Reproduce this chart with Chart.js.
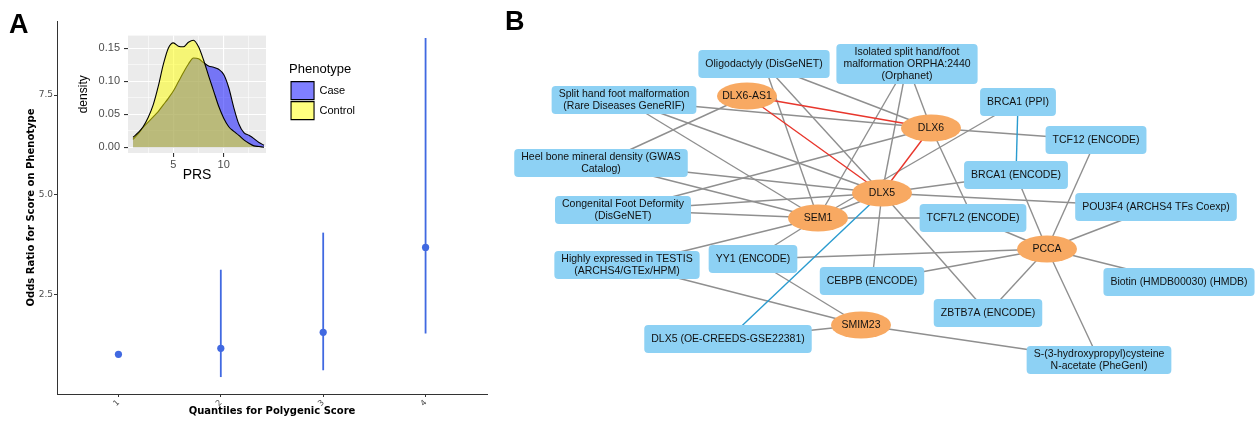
<!DOCTYPE html>
<html>
<head>
<meta charset="utf-8">
<script src="https://cdn.jsdelivr.net/npm/chart.js@4.4.0/dist/chart.umd.min.js"></script>
<style>
  body { margin: 0; background: #fff; }
  #wrap { position: relative; width: 1256px; height: 423px; overflow: hidden; background: #fff; }
  #wrap canvas { position: absolute; }
  .tag { position: absolute; font: bold 27px "Liberation Sans", Arial, sans-serif; color: #000; }
</style>
</head>
<body>
<div id="wrap">
  <canvas id="orChart" width="500" height="423" style="left:0;top:0"></canvas>
  <canvas id="densChart" width="327" height="165" style="left:75px;top:25px"></canvas>
  <canvas id="netChart" width="756" height="423" style="left:500px;top:0"></canvas>
  <div class="tag" style="left:9px;top:9px">A</div>
  <div class="tag" style="left:505px;top:6px">B</div>
</div>
<script>
// ---- panel A: odds ratio by quantile
var quantiles = [1, 2, 3, 4];
var oddsRatio = [1.0, 1.15, 1.55, 3.68];
var ciLow = [null, 0.43, 0.60, 1.52];
var ciHigh = [null, 3.12, 4.05, 8.93];
var orTicks = [2.5, 5.0, 7.5];

// ---- inset: PRS density by phenotype
var prsGrid = [1, 1.5, 2, 2.5, 3, 3.5, 4, 4.5, 5, 5.5, 6, 6.5, 7, 7.5, 8, 8.5, 9, 9.5, 10, 10.5, 11, 11.5, 12, 12.5, 13, 13.5, 14];
var densityCase = [0.012, 0.020, 0.030, 0.038, 0.046, 0.054, 0.064, 0.074, 0.085, 0.099, 0.113, 0.126, 0.135, 0.134, 0.128, 0.123, 0.121, 0.118, 0.110, 0.090, 0.060, 0.035, 0.022, 0.018, 0.013, 0.007, 0.003];
var densityControl = [0.015, 0.022, 0.031, 0.045, 0.064, 0.092, 0.125, 0.150, 0.158, 0.153, 0.152, 0.159, 0.162, 0.152, 0.132, 0.108, 0.085, 0.062, 0.044, 0.031, 0.024, 0.018, 0.011, 0.006, 0.002, 0.001, 0.000];
var prsTicks = [2.5, 5, 7.5, 10, 12.5];
var prsLabels = [5, 10];
var densTicks = [0, 0.025, 0.05, 0.075, 0.1, 0.125, 0.15];
var densLabels = [0, 0.05, 0.1, 0.15];

// ---- panel B: network
var nodeNames = ['DLX6-AS1', 'DLX6', 'DLX5', 'SEM1', 'PCCA', 'SMIM23',
  'Oligodactyly (DisGeNET)',
  'Isolated split hand/foot\nmalformation ORPHA:2440\n(Orphanet)',
  'Split hand foot malformation\n(Rare Diseases GeneRIF)',
  'BRCA1 (PPI)', 'TCF12 (ENCODE)',
  'Heel bone mineral density (GWAS\nCatalog)',
  'BRCA1 (ENCODE)',
  'Congenital Foot Deformity\n(DisGeNET)',
  'POU3F4 (ARCHS4 TFs Coexp)', 'TCF7L2 (ENCODE)',
  'Highly expressed in TESTIS\n(ARCHS4/GTEx/HPM)',
  'YY1 (ENCODE)', 'CEBPB (ENCODE)', 'Biotin (HMDB00030) (HMDB)',
  'ZBTB7A (ENCODE)', 'DLX5 (OE-CREEDS-GSE22381)',
  'S-(3-hydroxypropyl)cysteine\nN-acetate (PheGenI)'];
var nodeKind = ['gene', 'gene', 'gene', 'gene', 'gene', 'gene',
  'term', 'term', 'term', 'term', 'term', 'term', 'term', 'term', 'term',
  'term', 'term', 'term', 'term', 'term', 'term', 'term', 'term'];
var layoutX = [247, 431, 382, 318, 547, 361, 264, 407, 124, 518, 596, 101, 516, 123, 656, 473, 127, 253, 372, 679, 488, 228, 599];
var layoutY = [96, 128, 193, 218, 249, 325, 64, 64, 100, 102, 140, 163, 175, 210, 207, 218, 265, 259, 281, 282, 313, 339, 360];

var edgeFrom = ['DLX6-AS1', 'DLX6-AS1', 'DLX6', 'BRCA1 (PPI)', 'DLX5',
  'Oligodactyly (DisGeNET)', 'Oligodactyly (DisGeNET)', 'Oligodactyly (DisGeNET)',
  'Isolated split hand/foot\nmalformation ORPHA:2440\n(Orphanet)', 'Isolated split hand/foot\nmalformation ORPHA:2440\n(Orphanet)', 'Isolated split hand/foot\nmalformation ORPHA:2440\n(Orphanet)',
  'Split hand foot malformation\n(Rare Diseases GeneRIF)', 'Split hand foot malformation\n(Rare Diseases GeneRIF)', 'Split hand foot malformation\n(Rare Diseases GeneRIF)',
  'Heel bone mineral density (GWAS\nCatalog)', 'Heel bone mineral density (GWAS\nCatalog)', 'Heel bone mineral density (GWAS\nCatalog)',
  'Congenital Foot Deformity\n(DisGeNET)', 'Congenital Foot Deformity\n(DisGeNET)', 'Congenital Foot Deformity\n(DisGeNET)',
  'Highly expressed in TESTIS\n(ARCHS4/GTEx/HPM)', 'Highly expressed in TESTIS\n(ARCHS4/GTEx/HPM)',
  'YY1 (ENCODE)', 'YY1 (ENCODE)', 'YY1 (ENCODE)',
  'DLX5 (OE-CREEDS-GSE22381)',
  'CEBPB (ENCODE)', 'CEBPB (ENCODE)',
  'ZBTB7A (ENCODE)', 'ZBTB7A (ENCODE)',
  'TCF7L2 (ENCODE)', 'TCF7L2 (ENCODE)', 'TCF7L2 (ENCODE)',
  'BRCA1 (ENCODE)', 'BRCA1 (ENCODE)', 'BRCA1 (PPI)',
  'TCF12 (ENCODE)', 'TCF12 (ENCODE)',
  'POU3F4 (ARCHS4 TFs Coexp)', 'POU3F4 (ARCHS4 TFs Coexp)',
  'Biotin (HMDB00030) (HMDB)',
  'S-(3-hydroxypropyl)cysteine\nN-acetate (PheGenI)', 'S-(3-hydroxypropyl)cysteine\nN-acetate (PheGenI)',
  'SEM1'];
var edgeTo = ['DLX6', 'DLX5', 'DLX5', 'BRCA1 (ENCODE)', 'DLX5 (OE-CREEDS-GSE22381)',
  'SEM1', 'DLX5', 'DLX6',
  'SEM1', 'DLX5', 'DLX6',
  'SEM1', 'DLX5', 'DLX6',
  'DLX6-AS1', 'DLX5', 'SEM1',
  'DLX6', 'DLX5', 'SEM1',
  'SEM1', 'SMIM23',
  'SEM1', 'PCCA', 'SMIM23',
  'SMIM23',
  'DLX5', 'PCCA',
  'DLX5', 'PCCA',
  'SEM1', 'PCCA', 'DLX6',
  'DLX5', 'PCCA', 'SEM1',
  'DLX6', 'PCCA',
  'DLX5', 'PCCA',
  'PCCA',
  'PCCA', 'SMIM23',
  'DLX5'];
var edgeKind = ['red', 'red', 'red', 'blue', 'blue'];
while (edgeKind.length < edgeFrom.length) edgeKind.push('plain');

Chart.defaults.font.family = '"Liberation Sans", Arial, sans-serif';
Chart.defaults.animation = false;
Chart.defaults.events = [];
Chart.defaults.plugins.tooltip.enabled = false;

var pointBlue = '#4169E1';

// ---------- panel A main chart
var errorSets = [];
quantiles.forEach(function (q, i) {
  if (ciLow[i] === null) return;
  errorSets.push({
    data: [{ x: q, y: ciLow[i] }, { x: q, y: ciHigh[i] }],
    showLine: true, borderColor: pointBlue, borderWidth: 1.8, pointRadius: 0
  });
});

new Chart(document.getElementById('orChart'), {
  type: 'scatter',
  data: {
    datasets: [{
      data: quantiles.map(function (q, i) { return { x: q, y: oddsRatio[i] }; }),
      pointRadius: 3.6, backgroundColor: pointBlue, borderWidth: 0
    }].concat(errorSets)
  },
  options: {
    responsive: false,
    layout: { padding: { top: 21, right: 13, left: 0, bottom: 0 } },
    plugins: { legend: { display: false } },
    scales: {
      x: {
        type: 'linear', min: 0.4, max: 4.6,
        afterBuildTicks: function (s) { s.ticks = quantiles.map(function (v) { return { value: v }; }); },
        afterFit: function (s) { s.height = 29; },
        ticks: { minRotation: 45, maxRotation: 45, autoSkip: false, padding: 1, color: '#4D4D4D',
          font: { family: '"DejaVu Sans", sans-serif', size: 8 } },
        grid: { drawOnChartArea: false, drawTicks: true, tickLength: 3, tickColor: '#333' },
        border: { color: '#333', width: 1 },
        title: { display: true, text: 'Quantiles for Polygenic Score', color: '#000',
          font: { family: '"DejaVu Sans", sans-serif', size: 10, weight: 'bold' }, padding: { top: 0, bottom: 6 } }
      },
      y: {
        min: 0.005, max: 9.355,
        afterBuildTicks: function (s) { s.ticks = orTicks.map(function (v) { return { value: v }; }); },
        afterFit: function (s) { s.width = 57; },
        ticks: { padding: 1, color: '#4D4D4D', font: { family: '"DejaVu Sans", sans-serif', size: 9 },
          callback: function (v) { return Number(v).toFixed(1); } },
        grid: { drawOnChartArea: false, drawTicks: true, tickLength: 3, tickColor: '#333' },
        border: { color: '#333', width: 1 },
        title: { display: true, text: 'Odds Ratio for Score on Phenotype', color: '#000',
          font: { family: '"DejaVu Sans", sans-serif', size: 10, weight: 'bold' }, padding: { top: 25, bottom: 0 } }
      }
    }
  }
});

// ---------- inset density chart
var panelBg = {
  id: 'panelBg',
  beforeDraw: function (chart) {
    var a = chart.chartArea, ctx = chart.ctx;
    ctx.save();
    ctx.fillStyle = '#EBEBEB';
    ctx.fillRect(a.left, a.top, a.right - a.left, a.bottom - a.top);
    ctx.restore();
  }
};

function isMajor(list, v) {
  return list.some(function (m) { return Math.abs(m - v) < 1e-9; });
}

new Chart(document.getElementById('densChart'), {
  type: 'line',
  data: {
    datasets: [{
      label: 'Control',
      data: prsGrid.map(function (x, i) { return { x: x, y: densityControl[i] }; }),
      backgroundColor: 'rgba(255,255,0,0.5)', borderColor: '#000', borderWidth: 1.1,
      fill: 'origin', pointRadius: 0, cubicInterpolationMode: 'monotone'
    }, {
      label: 'Case',
      data: prsGrid.map(function (x, i) { return { x: x, y: densityCase[i] }; }),
      backgroundColor: 'rgba(0,0,255,0.5)', borderColor: '#000', borderWidth: 1.1,
      fill: 'origin', pointRadius: 0, cubicInterpolationMode: 'monotone'
    }]
  },
  plugins: [panelBg],
  options: {
    responsive: false,
    layout: { padding: { top: 7, right: 37, left: 0, bottom: 0 } },
    plugins: {
      legend: {
        position: 'right', align: 'start', maxWidth: 200,
        title: { display: true, text: 'Phenotype', color: '#000', position: 'start',
          font: { size: 13 }, padding: { top: 31, bottom: 1 } },
        labels: {
          boxWidth: 23, boxHeight: 18, padding: 2, color: '#000', font: { size: 11 },
          sort: function (a, b) { return b.datasetIndex - a.datasetIndex; }
        }
      }
    },
    scales: {
      x: {
        type: 'linear', min: 0.5, max: 14.2,
        afterBuildTicks: function (s) { s.ticks = prsTicks.map(function (v) { return { value: v }; }); },
        afterFit: function (s) { s.height = 37; },
        ticks: { padding: 1, color: '#4D4D4D', font: { size: 11 }, autoSkip: false, maxRotation: 0,
          callback: function (v) { return isMajor(prsLabels, v) ? String(v) : ''; } },
        grid: {
          color: '#fff', tickLength: 4,
          lineWidth: function (c) { return c.tick && isMajor(prsLabels, c.tick.value) ? 1.1 : 0.55; },
          tickColor: function (c) { return c.tick && isMajor(prsLabels, c.tick.value) ? '#333' : 'rgba(0,0,0,0)'; }
        },
        border: { display: false },
        title: { display: true, text: 'PRS', color: '#000', font: { size: 14 }, padding: { top: 0, bottom: 6 } }
      },
      y: {
        min: -0.0088, max: 0.169,
        afterBuildTicks: function (s) { s.ticks = densTicks.map(function (v) { return { value: v }; }); },
        afterFit: function (s) { s.width = 53; },
        ticks: { padding: 4, color: '#4D4D4D', font: { size: 11 },
          callback: function (v) { return isMajor(densLabels, v) ? Number(v).toFixed(2) : ''; } },
        grid: {
          color: '#fff', tickLength: 4,
          lineWidth: function (c) { return c.tick && isMajor(densLabels, c.tick.value) ? 1.1 : 0.55; },
          tickColor: function (c) { return c.tick && isMajor(densLabels, c.tick.value) ? '#333' : 'rgba(0,0,0,0)'; }
        },
        border: { display: false },
        title: { display: true, text: 'density', color: '#000', font: { size: 12 }, padding: { top: 1, bottom: 0 } }
      },
      gap: {
        axis: 'y', position: 'right', min: 0, max: 1,
        afterFit: function (s) { s.width = 23; },
        ticks: { display: false }, grid: { display: false }, border: { display: false }
      }
    }
  }
});

// ---------- panel B network
var nodeIndex = {};
nodeNames.forEach(function (n, i) { nodeIndex[n] = i; });
var edgeColors = { plain: '#8f8f8f', red: '#E8362C', blue: '#2A9BCF' };

var edgeSets = edgeFrom.map(function (a, i) {
  var p = nodeIndex[a], q = nodeIndex[edgeTo[i]];
  return {
    data: [{ x: layoutX[p], y: layoutY[p] }, { x: layoutX[q], y: layoutY[q] }],
    showLine: true, borderColor: edgeColors[edgeKind[i]], borderWidth: 1.4, pointRadius: 0
  };
});

function roundedBox(ctx, x, y, w, h, r) {
  ctx.beginPath();
  ctx.moveTo(x + r, y);
  ctx.lineTo(x + w - r, y);
  ctx.quadraticCurveTo(x + w, y, x + w, y + r);
  ctx.lineTo(x + w, y + h - r);
  ctx.quadraticCurveTo(x + w, y + h, x + w - r, y + h);
  ctx.lineTo(x + r, y + h);
  ctx.quadraticCurveTo(x, y + h, x, y + h - r);
  ctx.lineTo(x, y + r);
  ctx.quadraticCurveTo(x, y, x + r, y);
  ctx.closePath();
}

var nodePlugin = {
  id: 'nodes',
  afterDatasetsDraw: function (chart) {
    var ctx = chart.ctx;
    var meta = chart.getDatasetMeta(0);
    ctx.save();
    ctx.font = '10.5px "Liberation Sans", Arial, sans-serif';
    ctx.textAlign = 'center';
    ctx.textBaseline = 'middle';
    meta.data.forEach(function (pt, i) {
      var lines = nodeNames[i].split('\n');
      if (nodeKind[i] === 'gene') {
        ctx.fillStyle = '#F8A962';
        ctx.beginPath();
        ctx.ellipse(pt.x, pt.y, 30, 13.5, 0, 0, Math.PI * 2);
        ctx.fill();
      } else {
        var tw = Math.max.apply(null, lines.map(function (l) { return ctx.measureText(l).width; }));
        var w = tw + 14, h = Math.max(28, lines.length * 12 + 4);
        ctx.fillStyle = '#8DD1F4';
        roundedBox(ctx, pt.x - w / 2, pt.y - h / 2, w, h, 4);
        ctx.fill();
      }
      ctx.fillStyle = '#111';
      lines.forEach(function (l, k) {
        ctx.fillText(l, pt.x, pt.y + (k - (lines.length - 1) / 2) * 12);
      });
    });
    ctx.restore();
  }
};

new Chart(document.getElementById('netChart'), {
  type: 'scatter',
  data: {
    datasets: [{
      data: nodeNames.map(function (n, i) { return { x: layoutX[i], y: layoutY[i] }; }),
      pointRadius: 0
    }].concat(edgeSets)
  },
  plugins: [nodePlugin],
  options: {
    responsive: false,
    layout: { padding: 0 },
    plugins: { legend: { display: false } },
    scales: {
      x: { type: 'linear', display: false, min: 0, max: 756 },
      y: { display: false, min: 0, max: 423, reverse: true }
    }
  }
});
</script>
</body>
</html>
